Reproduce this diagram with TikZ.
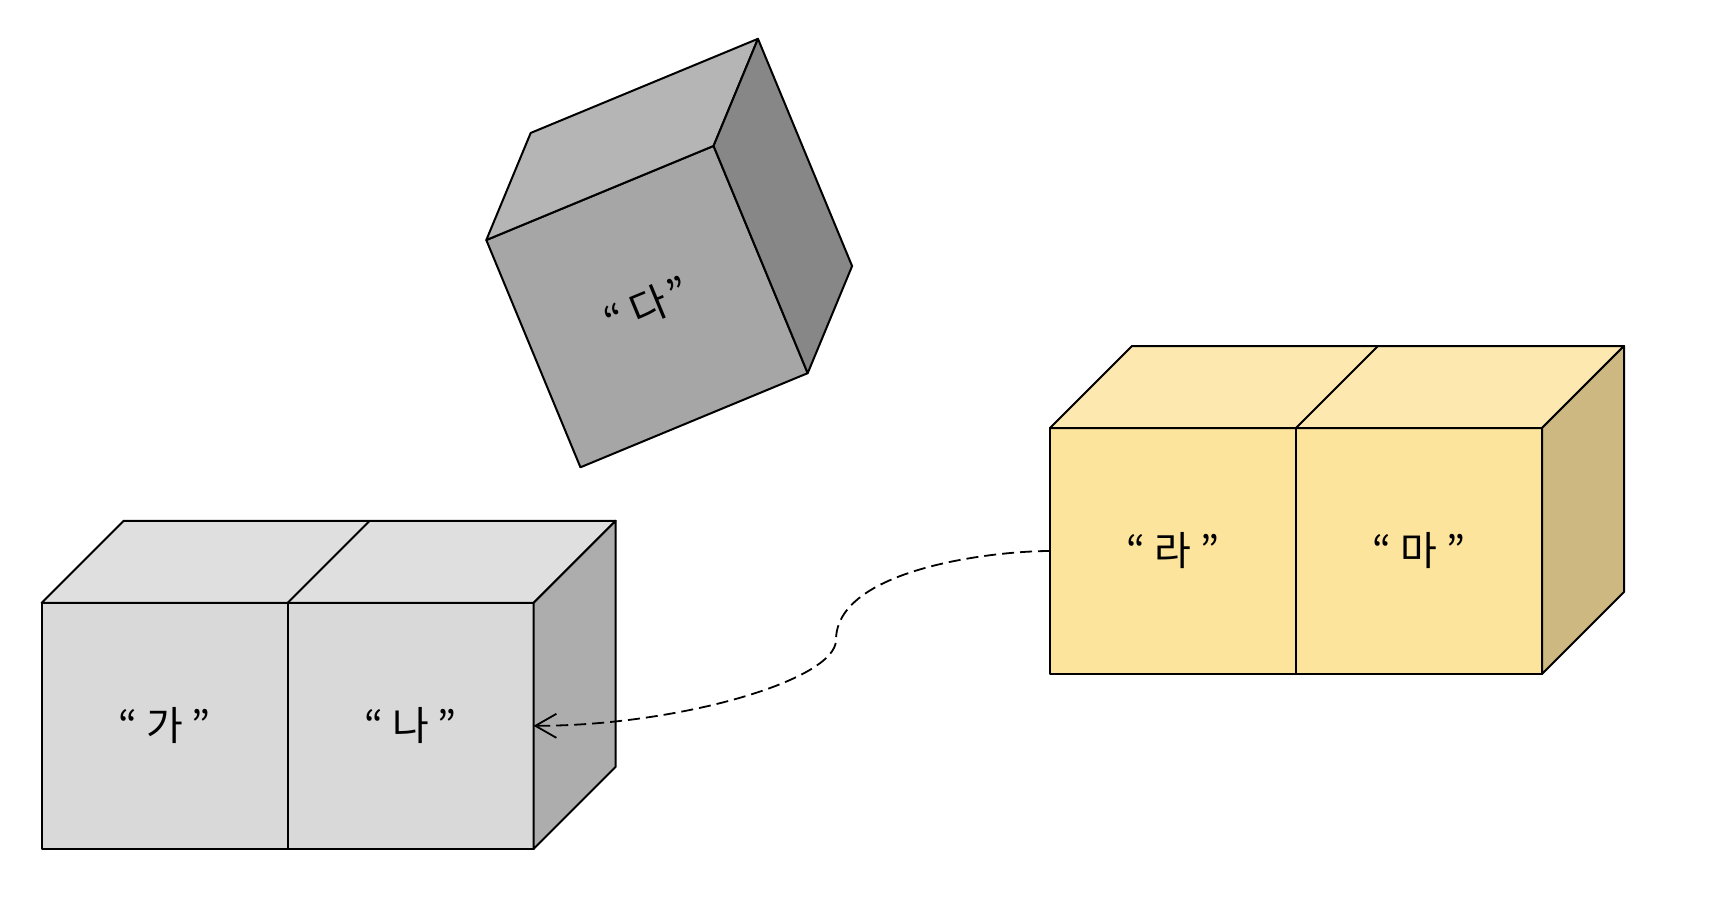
\documentclass[tikz,border=0pt]{standalone}
\usepackage{fontspec}
\newfontfamily\kr{Noto Sans CJK KR}
\usetikzlibrary{arrows.meta,calc}
\definecolor{lgfront}{HTML}{D9D9D9}
\definecolor{lgtop}{HTML}{DFDFDF}
\definecolor{lgside}{HTML}{ADADAD}
\definecolor{dgfront}{HTML}{A6A6A6}
\definecolor{dgtop}{HTML}{B5B5B5}
\definecolor{dgside}{HTML}{878787}
\definecolor{yfront}{HTML}{FDE49C}
\definecolor{ytop}{HTML}{FDE8B0}
\definecolor{yside}{HTML}{CCB880}
\tikzset{
  face/.style={draw, line width=1pt, line join=round, minimum width=123pt, minimum height=123pt,
    inner sep=0pt, outer sep=0pt, font=\kr\fontsize{20}{24}\selectfont},
  edge3d/.style={draw, line width=1pt, line join=round},
  conn/.style={line width=0.9pt, dash pattern=on 6pt off 3pt, -{Straight Barb[length=10.5pt,width=12pt]}}
}
\begin{document}
\begin{tikzpicture}[x=0.5pt,y=-0.5pt]
\useasboundingbox (0,0) rectangle (1714,912);
% left box
\node[face, fill=lgfront] (ga) at (164.6,725.8) {“ 가 ”};
\node[face, fill=lgfront] (na) at (410.6,725.8) {“ 나 ”};
\path[edge3d, fill=lgtop] (ga.north west) -- ++(82,-82) -- ++(492,0) -- (na.north east) -- cycle;
\path[edge3d] (na.north west) -- ++(82,-82);
\path[edge3d, fill=lgside] (na.north east) -- ++(82,-82) -- ++(0,246) -- (na.south east) -- cycle;
% rotated cube
\node[face, fill=dgfront, rotate=22.5] (da) at (647,306.6) {“ 다\kern2pt”};
\path[edge3d, fill=dgtop] (da.north west) -- ++(44.4,-107.1) -- ($(da.north east)+(44.4,-107.1)$) -- (da.north east) -- cycle;
\path[edge3d, fill=dgside] (da.north east) -- ++(44.4,-107.1) -- ($(da.south east)+(44.4,-107.1)$) -- (da.south east) -- cycle;
% yellow box
\node[face, fill=yfront] (ra) at (1173,551) {“ 라 ”};
\node[face, fill=yfront] (ma) at (1419,551) {“ 마 ”};
\path[edge3d, fill=ytop] (ra.north west) -- ++(82,-82) -- ++(492,0) -- (ma.north east) -- cycle;
\path[edge3d] (ma.north west) -- ++(82,-82);
\path[edge3d, fill=yside] (ma.north east) -- ++(82,-82) -- ++(0,246) -- (ma.south east) -- cycle;
% connector
\coordinate (mid) at (836,640);
\draw[conn] (ra.west) .. controls +(-60,0) and +(0,-70) .. (mid) .. controls +(0,40) and +(145,0) .. (na.east);
\end{tikzpicture}
\end{document}
